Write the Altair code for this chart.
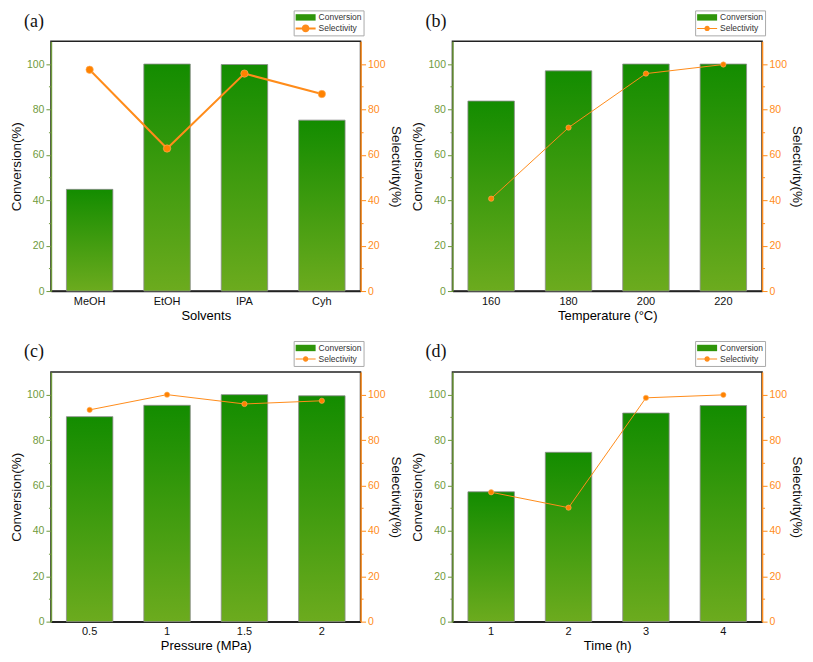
import altair as alt
import pandas as pd

# ---------------- data ----------------
solvents = ["MeOH", "EtOH", "IPA", "Cyh"]
conv_a = [44.8, 100.0, 99.8, 75.3]
sel_a = [97.5, 62.8, 95.8, 86.8]

temps = ["160", "180", "200", "220"]
conv_b = [83.7, 97.0, 100.0, 100.0]
sel_b = [40.7, 72.0, 95.8, 99.8]

pressures = ["0.5", "1", "1.5", "2"]
conv_c = [90.3, 95.3, 100.0, 99.5]
sel_c = [93.3, 100.0, 95.9, 97.3]

times = ["1", "2", "3", "4"]
conv_d = [57.2, 74.6, 91.9, 95.2]
sel_d = [57.0, 50.2, 98.6, 99.9]

series = ["Conversion", "Selectivity"]
y_ticks = list(range(0, 101, 10))

OLIVE = "#6f9a3c"
ORANGE = "#ff8c1a"
FONT = "Liberation Sans"
W, H = 310, 250

bar_gradient = alt.Gradient(
    gradient="linear",
    stops=[alt.GradientStop(color="#138c00", offset=0),
           alt.GradientStop(color="#6cab1e", offset=1)],
    x1=0, x2=0, y1=0, y2=1,
)

minor_size = {"condition": {"test": "datum.value % 20 === 0", "value": 5}, "value": 2.5}
minor_label = "datum.value % 20 === 0 ? datum.label : ''"


def y_axis(orient, title, color):
    return alt.Axis(orient=orient, title=title, values=y_ticks,
                    labelExpr=minor_label, tickSize=minor_size,
                    domainColor=color, tickColor=color, labelColor=color,
                    titleColor="#111", domainWidth=1.5, tickWidth=1,
                    labelFontSize=10.5, titleFontSize=13.5,
                    titleFontWeight="normal", labelPadding=2,
                    titlePadding=3, grid=False, labelFont=FONT, titleFont=FONT)


def panel(tag, cats, conv, sel, xtitle, thick):
    df = pd.DataFrame({"cat": cats, "conv": conv, "sel": sel})
    base = alt.Chart(df)
    x = alt.X(
        "cat:N", sort=cats,
        scale=alt.Scale(paddingInner=0.4, paddingOuter=0.2),
        axis=alt.Axis(title=xtitle, labelAngle=0, ticks=False, domainColor="#222",
                      domainWidth=1.5, labelColor="#111", labelFontSize=11,
                      titleFontSize=13, titleFontWeight="normal", labelPadding=4,
                      titlePadding=3, labelFont=FONT, titleFont=FONT),
    )
    yscale = alt.Scale(domain=[0, 110], nice=False)
    bars = base.mark_bar(color=bar_gradient, stroke="#8c8c8c", strokeWidth=0.8).encode(
        x=x,
        y=alt.Y("conv:Q", scale=yscale, axis=y_axis("left", "Conversion(%)", OLIVE)),
    )
    lw = 2 if thick else 1
    psize = 55 if thick else 28
    line = base.mark_line(
        color=ORANGE, strokeWidth=lw,
        point=alt.OverlayMarkDef(filled=True, size=psize, fill="#ff8200",
                                 stroke="#ffb060", strokeWidth=0.6),
    ).encode(
        x=x,
        y=alt.Y("sel:Q", scale=yscale, axis=y_axis("right", "Selectivity(%)", ORANGE)),
    )
    # legend symbols: 5px per path unit, drawn from x=0 to x=20 px
    lt = 0.2 if thick else 0.1
    cr = 0.76 if thick else 0.54
    rect_path = "M-1,-0.64H3V0.64H-1Z"
    line_path = (f"M-1,-{lt}H3V{lt}H-1Z M{1 + cr},0A{cr},{cr},0,1,1,{1 - cr},0"
                 f"A{cr},{cr},0,1,1,{1 + cr},0Z")
    leg_df = pd.DataFrame({"series": series})
    leg_props = dict(title=None, orient="none", legendX=W - 67, legendY=-31, rowPadding=1)
    legend = alt.Chart(leg_df).mark_point(size=0, filled=True, opacity=1).encode(
        color=alt.Color("series:N", scale=alt.Scale(domain=series, range=["#2f950a", ORANGE]),
                        legend=alt.Legend(labelFontSize=8.5, labelFont=FONT,
                                          labelColor="#333", symbolSize=100,
                                          strokeColor="#aaaaaa", fillColor="white",
                                          padding=2, labelOffset=13,
                                          symbolStrokeWidth=0, symbolOpacity=1,
                                          **leg_props)),
        shape=alt.Shape("series:N", scale=alt.Scale(domain=series, range=[rect_path, line_path]),
                        legend=alt.Legend(**leg_props)),
    )
    return alt.layer(bars, line, legend).resolve_scale(y="independent").properties(
        width=W, height=H,
        title=alt.TitleParams(tag, anchor="start", frame="group", font="Liberation Serif",
                              fontSize=18, fontWeight="normal", color="#111",
                              dx=-27, dy=29, offset=8),
    )


a = panel("(a)", solvents, conv_a, sel_a, "Solvents", True)
b = panel("(b)", temps, conv_b, sel_b, "Temperature (°C)", False)
c = panel("(c)", pressures, conv_c, sel_c, "Pressure (MPa)", False)
d = panel("(d)", times, conv_d, sel_d, "Time (h)", False)


def indep(ch):
    return ch.resolve_scale(color="independent", shape="independent").resolve_legend(
        color="independent", shape="independent")


chart = indep(alt.vconcat(
    indep(alt.hconcat(a, b, spacing=6)),
    indep(alt.hconcat(c, d, spacing=6)),
    spacing=16,
)).properties(padding=0).configure_view(stroke="#222", strokeWidth=1.5)

chart.save("out.html", embed_options={"renderer": "svg", "actions": False})
